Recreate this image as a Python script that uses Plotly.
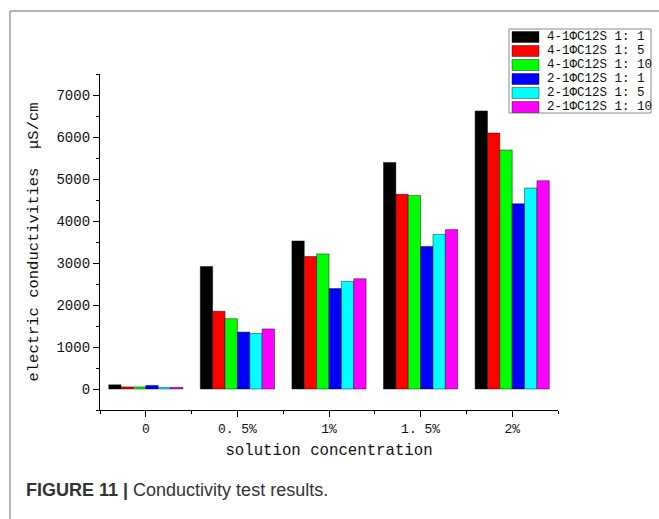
import plotly.graph_objects as go

categories = ["0", "0. 5%", "1%", "1. 5%", "2%"]
series_names = ["4-1ΦC12S 1: 1", "4-1ΦC12S 1: 5", "4-1ΦC12S 1: 10",
                "2-1ΦC12S 1: 1", "2-1ΦC12S 1: 5", "2-1ΦC12S 1: 10"]
colors = ["#000000", "#ff0000", "#00ff00", "#0000ff", "#00ffff", "#ff00ff"]

s_4_1_1 = [100, 2915, 3525, 5395, 6620]
s_4_1_5 = [50, 1850, 3155, 4635, 6095]
s_4_1_10 = [50, 1675, 3215, 4610, 5690]
s_2_1_1 = [85, 1355, 2390, 3395, 4410]
s_2_1_5 = [40, 1320, 2560, 3680, 4785]
s_2_1_10 = [40, 1430, 2625, 3795, 4960]
series_values = [s_4_1_1, s_4_1_5, s_4_1_10, s_2_1_1, s_2_1_5, s_2_1_10]

y_ticks = [0, 1000, 2000, 3000, 4000, 5000, 6000, 7000]

W, H = 659, 519
ML, MR, MT, MB = 100, 101, 74, 109
PW, PH = W - ML - MR, H - MT - MB


def px(x):
    return (x - ML) / PW


def py(y):
    return (H - MB - y) / PH


x_pos = list(range(len(categories)))

fig = go.Figure()
for name, vals, col in zip(series_names, series_values, colors):
    fig.add_trace(go.Bar(
        x=x_pos, y=vals, name=name,
        marker=dict(color=col, line=dict(color="rgba(0,0,0,0.55)", width=0.8)),
        showlegend=False,
    ))

shapes = []
annotations = []

# outer frame (top + left)
shapes.append(dict(type="line", xref="paper", yref="paper",
                   x0=px(10), y0=py(11), x1=px(W + 5), y1=py(11),
                   line=dict(color="#9a9a9a", width=1.5)))
shapes.append(dict(type="line", xref="paper", yref="paper",
                   x0=px(10), y0=py(11), x1=px(10), y1=py(H + 5),
                   line=dict(color="#9a9a9a", width=1.5)))

# custom legend box
shapes.append(dict(type="rect", xref="paper", yref="paper",
                   x0=px(509), y0=py(29), x1=px(651), y1=py(113),
                   line=dict(color="#8a8a8a", width=1), fillcolor="white"))
for i, (name, col) in enumerate(zip(series_names, colors)):
    y0 = 31.5 + 14 * i
    shapes.append(dict(type="rect", xref="paper", yref="paper",
                       x0=px(512), y0=py(y0), x1=px(539), y1=py(y0 + 11),
                       line=dict(color="rgba(0,0,0,0.5)", width=0.8),
                       fillcolor=col))
    annotations.append(dict(xref="paper", yref="paper", x=px(545), y=py(y0 + 5.5),
                            text=name, showarrow=False, xanchor="left", yanchor="middle",
                            font=dict(family="Liberation Mono", size=12.5, color="#111")))

# caption
annotations.append(dict(xref="paper", yref="paper", x=px(24), y=py(490),
                        text="<b>FIGURE 11 |</b> Conductivity test results.",
                        showarrow=False, xanchor="left", yanchor="middle",
                        font=dict(family="Liberation Sans", size=18, color="#333333")))

fig.update_layout(
    width=W, height=H,
    margin=dict(l=ML, r=MR, t=MT, b=MB, pad=0),
    paper_bgcolor="white", plot_bgcolor="white",
    barmode="group", bargap=0.19, bargroupgap=0,
    shapes=shapes, annotations=annotations,
    xaxis=dict(
        type="linear",
        range=[-0.5, 4.5], tickmode="array", tickvals=x_pos, ticktext=categories,
        showline=True, linecolor="black", linewidth=1.3, mirror=False,
        ticks="outside", ticklen=6, tickwidth=1.3, tickcolor="black",
        minor=dict(tickmode="linear", tick0=-0.5, dtick=1,
                   ticks="outside", ticklen=3, tickwidth=1.2, tickcolor="black",
                   showgrid=False),
        showgrid=False, zeroline=False,
        tickfont=dict(family="Liberation Mono", size=13, color="#111"),
        title=dict(text="solution concentration", standoff=8,
                   font=dict(family="Liberation Mono", size=15.7, color="#111")),
    ),
    yaxis=dict(
        range=[-500, 7500], tickmode="array", tickvals=y_ticks,
        showline=True, linecolor="black", linewidth=1.3,
        ticks="outside", ticklen=6, tickwidth=1.3, tickcolor="black",
        minor=dict(tickmode="linear", dtick=500, tick0=0, ticks="outside", ticklen=3,
                   tickwidth=1.2, tickcolor="black", showgrid=False),
        showgrid=False, zeroline=False,
        tickfont=dict(family="Liberation Mono", size=14, color="#111"),
        title=dict(text="electric conductivities  μS/cm", standoff=14,
                   font=dict(family="Liberation Mono", size=15.5, color="#111")),
    ),
)

fig.write_html("out.html")
